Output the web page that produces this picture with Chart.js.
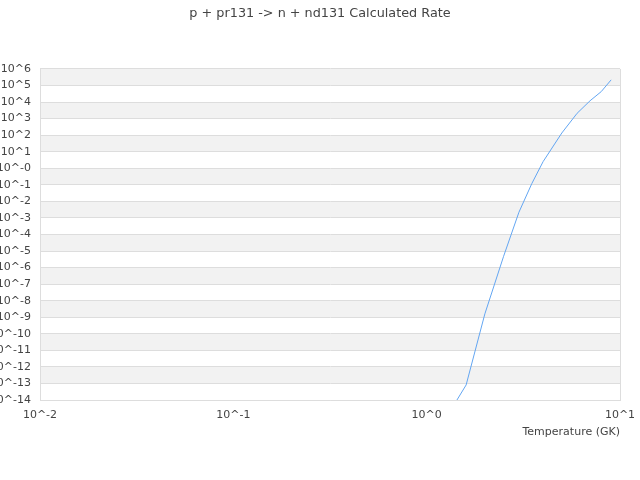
<!DOCTYPE html>
<html>
<head>
<meta charset="utf-8">
<title>p + pr131 -> n + nd131 Calculated Rate</title>
<script src="https://cdn.jsdelivr.net/npm/chart.js@4"></script>
<style>
  html, body { margin: 0; padding: 0; background: #fff; }
  #wrap { width: 640px; height: 480px; }
</style>
</head>
<body>
<div id="wrap"><canvas id="rateChart" width="640" height="480"></canvas></div>
<script>
// ===== Datos =====
const chartTitle = 'p + pr131 -> n + nd131 Calculated Rate';
const xTitle = 'Temperature (GK)';

// temperatura (GK) y tasa calculada
const temperatures = [1.4, 1.6, 2, 2.5, 3, 3.5, 4, 5, 6, 7, 8, 9];
const rates = [6.3e-15, 8.1e-14, 1.6e-9, 4.8e-6, 2.2e-3, 0.12, 2.5, 135, 2100, 1.2e4, 4.3e4, 2.2e5];

// ticks (décadas) y sus etiquetas
const xTickValues = [0.01, 0.1, 1, 10];
const xTickLabels = ['10^-2', '10^-1', '10^0', '10^1'];
const yTickValues = [1e6, 1e5, 1e4, 1e3, 1e2, 1e1, 1, 1e-1, 1e-2, 1e-3, 1e-4, 1e-5, 1e-6,
                     1e-7, 1e-8, 1e-9, 1e-10, 1e-11, 1e-12, 1e-13, 1e-14];
const yTickLabels = ['10^6', '10^5', '10^4', '10^3', '10^2', '10^1', '10^-0', '10^-1', '10^-2',
                     '10^-3', '10^-4', '10^-5', '10^-6', '10^-7', '10^-8', '10^-9', '10^-10',
                     '10^-11', '10^-12', '10^-13', '10^-14'];

const FONT = 'DejaVu Sans';
const TEXT = '#444';
const GRID = '#dddddd';
const BAND = '#f2f2f2';

// franjas alternas + borde derecho del área
const bandsPlugin = {
  id: 'bands',
  beforeDraw(chart){
    const {ctx, chartArea:{left, right}, scales:{y}} = chart;
    ctx.save();
    for(let i = 0; i < yTickValues.length - 1; i++){
      if(i % 2 !== 0) continue;
      const y1 = y.getPixelForValue(yTickValues[i]);
      const y2 = y.getPixelForValue(yTickValues[i+1]);
      ctx.fillStyle = BAND;
      ctx.fillRect(left, y1, right - left, y2 - y1);
    }
    ctx.restore();
  },
  afterDraw(chart){
    const {ctx, chartArea:{right, top, bottom}} = chart;
    ctx.save();
    ctx.strokeStyle = GRID;
    ctx.lineWidth = 1;
    ctx.beginPath();
    ctx.moveTo(Math.round(right) + 0.5, top);
    ctx.lineTo(Math.round(right) + 0.5, bottom);
    ctx.stroke();
    ctx.restore();
  }
};

const points = temperatures.map((t, i) => ({x: t, y: rates[i]}));

new Chart(document.getElementById('rateChart').getContext('2d'), {
  type: 'line',
  data: {
    datasets: [{
      label: 'Rate',
      data: points,
      borderColor: 'rgb(99,166,242)',
      backgroundColor: 'rgb(99,166,242)',
      borderWidth: 1,
      pointRadius: 0,
      fill: false,
      tension: 0
    }]
  },
  options: {
    responsive: false,
    animation: false,
    layout: { padding: { left: 0, right: 0, top: 0, bottom: 37.4 } },
    plugins: {
      legend: { display: false },
      tooltip: { enabled: false },
      title: {
        display: true,
        text: chartTitle,
        color: TEXT,
        font: { family: FONT, size: 12.8, weight: 'normal' },
        padding: { top: 6, bottom: 47.6 }
      }
    },
    scales: {
      x: {
        type: 'logarithmic',
        min: 0.01, max: 10,
        afterBuildTicks(scale){ scale.ticks = xTickValues.map(v => ({value: v})); },
        afterFit(scale){
          scale.height = 42.6;
          // el margen derecho sale del eje, así el título queda centrado en el lienzo
          scale.paddingLeft = 0;
          scale.paddingRight = 20;
        },
        ticks: {
          color: TEXT,
          font: { family: FONT, size: 11 },
          padding: 9,
          maxRotation: 0,
          autoSkip: false,
          callback: (v, i) => xTickLabels[i]
        },
        grid: { display: false, drawTicks: false },
        border: { display: true, color: GRID },
        title: {
          display: true,
          text: xTitle,
          align: 'end',
          color: TEXT,
          font: { family: FONT, size: 11 },
          padding: { top: 4, bottom: 4 }
        }
      },
      y: {
        type: 'logarithmic',
        min: 1e-14, max: 1e6,
        afterBuildTicks(scale){ scale.ticks = yTickValues.map(v => ({value: v})); },
        afterFit(scale){ scale.width = 40; },
        ticks: {
          color: TEXT,
          font: { family: FONT, size: 11 },
          padding: 9,
          autoSkip: false,
          callback: (v, i) => yTickLabels[i]
        },
        grid: { color: GRID, drawTicks: false },
        border: { display: true, color: GRID }
      }
    }
  },
  plugins: [bandsPlugin]
});
</script>
</body>
</html>
